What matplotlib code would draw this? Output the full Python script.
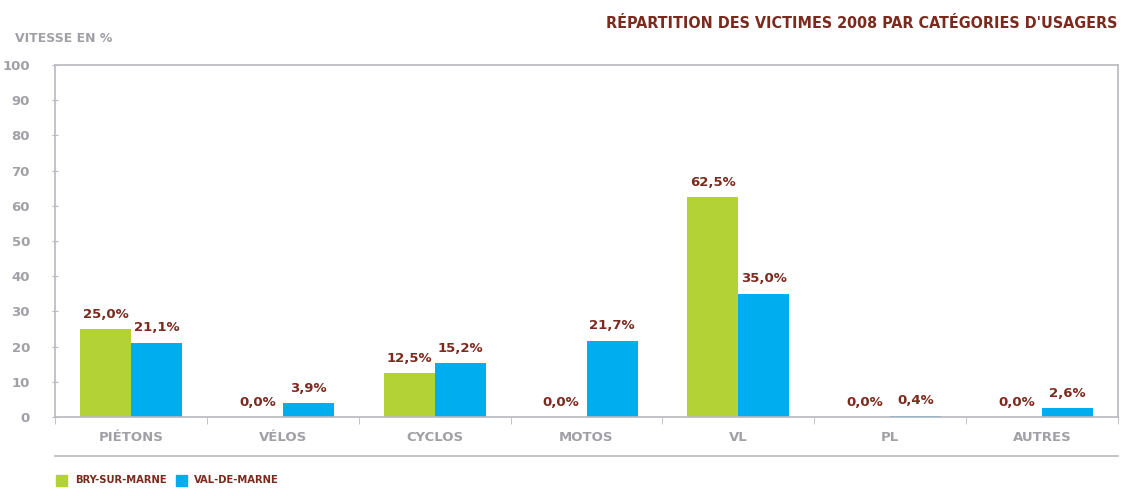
"""Répartition des victimes 2008 par catégories d'usagers."""

import matplotlib

matplotlib.use("Agg")
import matplotlib.pyplot as plt
import numpy as np
from matplotlib.lines import Line2D
from matplotlib.patches import Rectangle

categories = ["PIÉTONS", "VÉLOS", "CYCLOS", "MOTOS", "VL", "PL", "AUTRES"]
bry = [25.0, 0.0, 12.5, 0.0, 62.5, 0.0, 0.0]
val = [21.1, 3.9, 15.2, 21.7, 35.0, 0.4, 2.6]
series_names = ["BRY-SUR-MARNE", "VAL-DE-MARNE"]
yticks = [0, 10, 20, 30, 40, 50, 60, 70, 80, 90, 100]

GREEN = "#b2d235"
BLUE = "#00adee"
RED = "#7b2a1e"
GREY = "#a0a0a6"
LINE = "#b9b9be"
# narrow bold face for the title and legend
COND = dict(family=["DejaVu Sans"], stretch="condensed")

fig = plt.figure(figsize=(11.27, 4.96), dpi=100)
ax = fig.add_axes([55 / 1127, 1 - 417 / 496, (1118 - 55) / 1127, (417 - 65) / 496])

x = np.arange(len(categories))
w = 0.336
ax.bar(x - w / 2, bry, w, color=GREEN, zorder=2)
ax.bar(x + w / 2, val, w, color=BLUE, zorder=2)

for xs, vals in ((x - w / 2, bry), (x + w / 2, val)):
    for xi, v in zip(xs, vals):
        ax.annotate(f"{v:.1f}%".replace(".", ","), (xi, v), xytext=(0, 6),
                    textcoords="offset points", ha="center", va="bottom",
                    color=RED, fontsize=9.5, fontweight="bold")

ax.set_xlim(-0.5, len(categories) - 0.5)
ax.set_ylim(0, 100)
ax.set_yticks(yticks)
ax.set_xticks(x)
ax.set_xticklabels(categories)
ax.set_xticks(np.arange(-0.5, len(categories)), minor=True)
ax.tick_params(axis="x", which="major", length=0, pad=10, labelsize=9.5,
               labelcolor=GREY)
ax.tick_params(axis="x", which="minor", length=5, color=LINE, direction="out")
ax.tick_params(axis="y", length=4, color=LINE, direction="inout", pad=16,
               labelsize=9.5, labelcolor=GREY)
for lab in ax.get_xticklabels() + ax.get_yticklabels():
    lab.set_fontweight("bold")
for sp in ax.spines.values():
    sp.set_color(LINE)
    sp.set_linewidth(1.2)

# line under the category labels
fig.add_artist(Line2D([55 / 1127, 1118 / 1127], [1 - 456 / 496] * 2,
                      color=LINE, lw=1.2))

fig.text(15 / 1127, 1 - 39 / 496, "VITESSE EN %", color=GREY, fontsize=9,
         fontweight="bold", va="center")
fig.text(1117 / 1127, 1 - 24 / 496,
         "RÉPARTITION DES VICTIMES 2008 PAR CATÉGORIES D'USAGERS",
         color=RED, fontsize=11.5, fontweight="bold", ha="right", va="center",
         **COND)

# legend
for (x0, tx), name, col in zip([(56, 75), (176, 194)], series_names, [GREEN, BLUE]):
    fig.add_artist(Rectangle((x0 / 1127, 1 - 486 / 496), 11 / 1127, 11 / 496,
                             color=col, transform=fig.transFigure))
    fig.text(tx / 1127, 1 - 480 / 496, name, color=RED, fontsize=8,
             fontweight="bold", va="center", **COND)

fig.savefig("out.png", dpi=100)
